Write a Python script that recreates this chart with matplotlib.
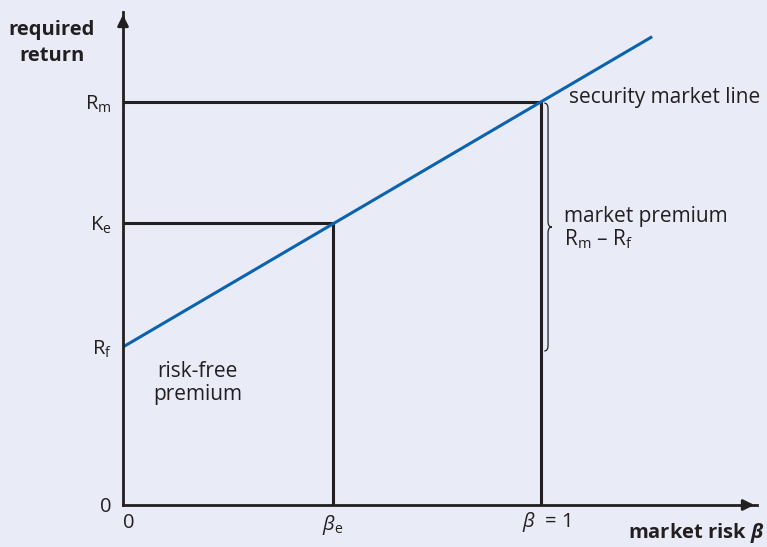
import matplotlib.pyplot as plt
from matplotlib.path import Path
from matplotlib.patches import PathPatch

plt.rcParams['font.family'] = ['Open Sans', 'DejaVu Sans']
plt.rcParams['mathtext.fontset'] = 'custom'
plt.rcParams['mathtext.rm'] = 'Open Sans'
plt.rcParams['mathtext.it'] = 'Open Sans:italic'
plt.rcParams['mathtext.bf'] = 'Open Sans:bold'
plt.rcParams['mathtext.bfit'] = 'Open Sans:bold:italic'

# values (return scaled so that Rm = 1)
r_f = 0.392
k_e = 0.70
r_m = 1.0
beta_e = 0.502
beta_m = 1.0
line_beta = [0.0, 1.263]
y_ticks = [0.0, r_f, k_e, r_m]
y_labels = ['0', r'R$_\mathrm{f}$', r'K$_\mathrm{e}$', r'R$_\mathrm{m}$']
x_ticks = [0.0, beta_e]
x_labels = ['0', r'$\mathit{\beta}_\mathrm{e}$']

bg = '#e9ecf7'
ink = '#231f20'
blue = '#0b62ae'
fs = 15
fs_tick = 14.5
fs_bold = 14.5

fig = plt.figure(figsize=(7.67, 5.47), dpi=100, facecolor=bg)
ax = fig.add_axes([123 / 767, 42 / 547, 634 / 767, 493 / 547])
ax.set_facecolor(bg)
xmax, ymax = 1.517, 1.223
ax.set_xlim(0, xmax)
ax.set_ylim(0, ymax)

for s in ['top', 'right']:
    ax.spines[s].set_visible(False)
for s in ['left', 'bottom']:
    ax.spines[s].set_color(ink)
    ax.spines[s].set_linewidth(2)

ax.set_yticks(y_ticks, y_labels)
ax.set_xticks(x_ticks, x_labels)
ax.tick_params(length=0, labelsize=fs_tick, colors=ink)
ax.tick_params(axis='y', pad=8)
ax.tick_params(axis='x', pad=6)
for lab in ax.get_xticklabels():
    if lab.get_text() == '0':
        lab.set_horizontalalignment('left')

# arrow heads
ax.annotate('', xy=(0, ymax), xytext=(0, ymax - 0.03),
            arrowprops=dict(arrowstyle='-|>', color=ink, lw=2, mutation_scale=16),
            annotation_clip=False)
ax.annotate('', xy=(xmax, 0), xytext=(xmax - 0.03, 0),
            arrowprops=dict(arrowstyle='-|>', color=ink, lw=2, mutation_scale=16),
            annotation_clip=False)

# guide lines
ax.plot([0, beta_e, beta_e], [k_e, k_e, 0], color=ink, lw=2.2, solid_joinstyle='miter')
ax.plot([0, beta_m, beta_m], [r_m, r_m, 0], color=ink, lw=2.2, solid_joinstyle='miter')

# security market line
sml = [r_f + (r_m - r_f) * b for b in line_beta]
ax.plot(line_beta, sml, color=blue, lw=2.2)

# curly brace for market premium
bx = 1.008
body = bx + 0.009
tip = bx + 0.018
top, bot = r_m - 0.003, r_f - 0.01
mid = (top + bot) / 2
c = 0.014
verts = [(bx, top), (body, top), (body, top - c),
         (body, mid + c), (body, mid), (tip, mid),
         (body, mid), (body, mid - c),
         (body, bot + c), (body, bot), (bx, bot)]
codes = [Path.MOVETO, Path.CURVE3, Path.CURVE3,
         Path.LINETO, Path.CURVE3, Path.CURVE3,
         Path.CURVE3, Path.CURVE3,
         Path.LINETO, Path.CURVE3, Path.CURVE3]
ax.add_patch(PathPatch(Path(verts, codes), fill=False, ec=ink, lw=0.9))

# labels
ax.text(1.012, -0.042, r'$\mathit{\beta}$  = 1', fontsize=fs_tick, color=ink, ha='center', va='center')
fig.text(764 / 767, 1 - 533 / 547, r'market risk $\mathbfit{\beta}$', fontsize=fs_bold,
         fontweight='bold', color=ink, ha='right', va='center')
fig.text(52 / 767, 1 - 43 / 547, 'required\nreturn', fontsize=fs_bold, fontweight='bold',
         color=ink, ha='center', va='center', linespacing=1.35)
ax.text(1.067, r_m + 0.012, 'security market line', fontsize=fs, color=ink, ha='left', va='center')
ax.text(1.055, mid + 0.025, 'market premium', fontsize=fs, color=ink, ha='left', va='center')
ax.text(1.055, mid - 0.03, r'R$_\mathrm{m}$ – R$_\mathrm{f}$', fontsize=fs, color=ink,
        ha='left', va='center')
ax.text(0.178, r_f - 0.09, 'risk-free\npremium', fontsize=fs, color=ink, ha='center',
        va='center', linespacing=1.1)

fig.savefig('out.png', dpi=100, facecolor=bg)
